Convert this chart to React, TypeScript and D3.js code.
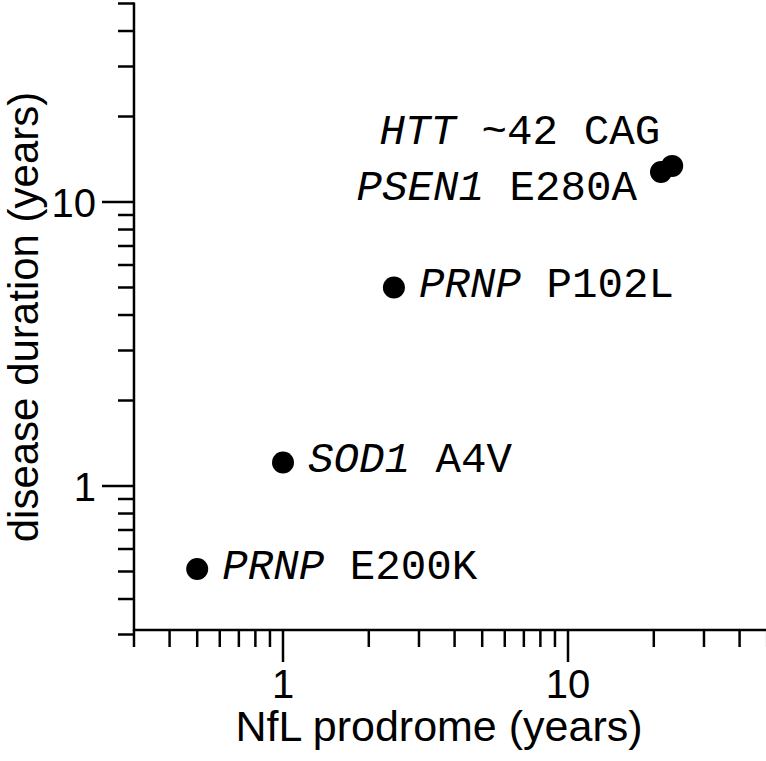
import React, { useRef, useEffect } from 'react';
import * as d3 from 'd3';

// gene / variant labels and values
const genes = ['PRNP', 'SOD1', 'PRNP', 'PSEN1', 'HTT'];
const variants = ['E200K', 'A4V', 'P102L', 'E280A', '~42 CAG'];
const prodrome = [0.5, 1.0, 2.45, 21.2, 23.2]; // NfL prodrome (years)
const duration = [0.51, 1.21, 5.0, 12.75, 13.4]; // disease duration (years)
// where the label sits relative to its dot
const labelSide = ['right', 'right', 'right', 'left', 'above'];

const majorTicks = [1, 10];
const minorTicks = [0.3, 0.4, 0.5, 0.6, 0.7, 0.8, 0.9, 2, 3, 4, 5, 6, 7, 8, 9, 20, 30, 40, 50];

const App = () => {
  const ref = useRef<SVGSVGElement>(null);

  useEffect(() => {
    const width = 766;
    const height = 761;

    const svg = d3.select(ref.current);
    svg.selectAll('*').remove();
    svg.attr('width', width).attr('height', height);

    // 1 -> 283, 10 -> 568 on x; 1 -> 486, 10 -> 202 on y
    const x = d3.scaleLog().domain([1, 10]).range([283, 568]);
    const y = d3.scaleLog().domain([1, 10]).range([486, 202]);

    const x0 = x(0.3), x1 = x(50);
    const y0 = 630, y1 = y(50);
    const stroke = 2.5;

    const g = svg.append('g');

    // axis lines
    g.append('line')
      .attr('x1', x0).attr('x2', x1 + 2)
      .attr('y1', y0).attr('y2', y0)
      .attr('stroke', '#000').attr('stroke-width', stroke);
    g.append('line')
      .attr('x1', x0).attr('x2', x0)
      .attr('y1', y0 + 1).attr('y2', y1 - 1)
      .attr('stroke', '#000').attr('stroke-width', stroke);

    // x ticks (outward, down)
    g.selectAll('.xminor')
      .data(minorTicks)
      .enter().append('line')
      .attr('x1', (d) => x(d)).attr('x2', (d) => x(d))
      .attr('y1', y0).attr('y2', y0 + 17)
      .attr('stroke', '#000').attr('stroke-width', stroke);
    g.selectAll('.xmajor')
      .data(majorTicks)
      .enter().append('line')
      .attr('x1', (d) => x(d)).attr('x2', (d) => x(d))
      .attr('y1', y0).attr('y2', y0 + 32)
      .attr('stroke', '#000').attr('stroke-width', stroke);

    // y ticks (outward, left)
    g.selectAll('.yminor')
      .data(minorTicks)
      .enter().append('line')
      .attr('y1', (d) => y(d)).attr('y2', (d) => y(d))
      .attr('x1', x0).attr('x2', x0 - 16)
      .attr('stroke', '#000').attr('stroke-width', stroke);
    g.selectAll('.ymajor')
      .data(majorTicks)
      .enter().append('line')
      .attr('y1', (d) => y(d)).attr('y2', (d) => y(d))
      .attr('x1', x0).attr('x2', x0 - 32)
      .attr('stroke', '#000').attr('stroke-width', stroke);

    const sans = 'Liberation Sans, Arial, Helvetica, sans-serif';

    // tick labels
    g.selectAll('.xlab')
      .data(majorTicks)
      .enter().append('text')
      .attr('x', (d) => x(d))
      .attr('y', 698)
      .attr('text-anchor', 'middle')
      .style('font-family', sans)
      .style('font-size', '40px')
      .text((d) => d);
    g.selectAll('.ylab')
      .data(majorTicks)
      .enter().append('text')
      .attr('x', 96)
      .attr('y', (d) => y(d) + 15)
      .attr('text-anchor', 'end')
      .style('font-family', sans)
      .style('font-size', '40px')
      .text((d) => d);

    // axis titles
    g.append('text')
      .attr('x', 439).attr('y', 741)
      .attr('text-anchor', 'middle')
      .style('font-family', sans)
      .style('font-size', '43px')
      .text('NfL prodrome (years)');
    g.append('text')
      .attr('transform', 'translate(38, 317) rotate(-90)')
      .attr('text-anchor', 'middle')
      .style('font-family', sans)
      .style('font-size', '42px')
      .text('disease duration (years)');

    // points
    g.selectAll('circle')
      .data(prodrome)
      .enter().append('circle')
      .attr('cx', (d) => x(d))
      .attr('cy', (d, i) => y(duration[i]))
      .attr('r', 11)
      .attr('fill', '#000');

    // labels
    const mono = 'Liberation Mono, Courier New, monospace';
    const labels = g.selectAll('.lab')
      .data(prodrome)
      .enter().append('text')
      .style('font-family', mono)
      .style('font-size', '42.5px')
      .attr('x', (d, i) => {
        if (labelSide[i] === 'right') return x(d) + 25;
        if (labelSide[i] === 'left') return x(d) - 24;
        return x(d) - 12;
      })
      .attr('y', (d, i) => {
        const cy = y(duration[i]);
        if (labelSide[i] === 'left') return cy + 28;
        if (labelSide[i] === 'above') return cy - 22;
        return cy + 10;
      })
      .attr('text-anchor', (d, i) => (labelSide[i] === 'right' ? 'start' : 'end'));
    labels.append('tspan')
      .style('font-style', 'italic')
      .text((d, i) => genes[i]);
    labels.append('tspan')
      .text((d, i) => ' ' + variants[i]);
  }, []);

  return (
    <svg
      ref={ref}
      style={{ position: 'absolute', left: 0, top: 0, background: '#fff' }}
    />
  );
};

export default App;
